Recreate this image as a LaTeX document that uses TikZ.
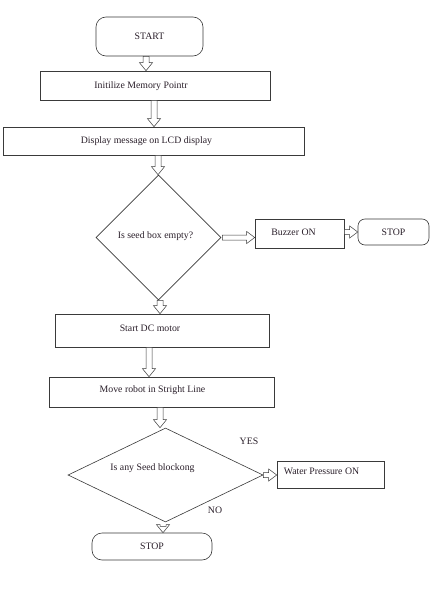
\documentclass[tikz,border=0pt]{standalone}
\usepackage{fontspec}
\setmainfont{Liberation Serif}
\usetikzlibrary{shapes.geometric,calc}
\definecolor{ln}{HTML}{3A3A3A}
\definecolor{tx}{HTML}{2A1F2A}
\tikzset{
  base/.style={draw=ln, line width=0.6pt, text=tx, font=\fontsize{9.8}{11}\selectfont, inner sep=0pt},
  procbox/.style={base, rectangle, minimum width=#1},
  termbox/.style={base, rectangle, rounded corners=10pt, minimum width=#1},
  decbox/.style={base, diamond, aspect=1},
  conn/.style={draw=ln, line width=0.5pt, fill=white},
}
\newcommand{\varr}[2]{\path[conn] let \p1=(#1), \p2=(#2) in
  (\x1-3pt,\y1) -- (\x1-3pt,\y2+8pt) -- (\x1-6.5pt,\y2+8pt) -- (\x1,\y2) --
  (\x1+6.5pt,\y2+8pt) -- (\x1+3pt,\y2+8pt) -- (\x1+3pt,\y1) -- cycle;}
\newcommand{\harr}[2]{\path[conn] let \p1=(#1), \p2=(#2) in
  (\x1,\y1+2.5pt) -- (\x2-8pt,\y1+2.5pt) -- (\x2-8pt,\y1+6pt) -- (\x2,\y1) --
  (\x2-8pt,\y1-6pt) -- (\x2-8pt,\y1-2.5pt) -- (\x1,\y1-2.5pt) -- cycle;}
\begin{document}
\begin{tikzpicture}[x=1pt,y=-1pt]
\useasboundingbox[fill=white] (0,0) rectangle (430,594);

\node[termbox=107pt, minimum height=39pt] (start) at (149.5,36.5) {START};
\node[procbox=230pt, minimum height=29pt, label={[base,draw=none,xshift=-14pt,yshift=-1pt]center:Initilize Memory Pointr}] (init) at (155,85.5) {};
\node[procbox=301pt, minimum height=28pt, label={[base,draw=none,xshift=-7pt]center:Display message on LCD display}] (disp) at (153.5,141) {};
\node[decbox, minimum width=125pt, minimum height=125pt, label={[base,draw=none,xshift=-3pt,yshift=1.5pt]center:Is seed box empty?}] (d1) at (158.5,237.5) {};
\node[procbox=89pt, minimum height=29pt, label={[base,draw=none,xshift=-6pt,yshift=1.5pt]center:Buzzer ON}] (buzz) at (299.5,233.5) {};
\node[termbox=71pt, minimum height=26pt, rounded corners=7pt] (stop1) at (393.5,232) {STOP};
\node[procbox=214pt, minimum height=33pt, label={[base,draw=none,xshift=-12pt,yshift=2pt]center:Start DC motor}] (dc) at (162,330.5) {};
\node[procbox=225pt, minimum height=30pt, label={[base,draw=none,xshift=-9pt,yshift=2pt]center:Move robot in Stright Line}] (move) at (161.5,392) {};
\node[decbox, minimum width=195pt, minimum height=94pt, label={[base,draw=none,xshift=-13pt,yshift=7pt]center:Is any Seed blockong}] (d2) at (165.5,475) {};
\node[procbox=107pt, minimum height=27pt, label={[base,draw=none,xshift=-9pt,yshift=3pt]center:Water Pressure ON}] (water) at (330.5,474.5) {};
\node[termbox=120pt, minimum height=27pt] (stop2) at (152,546.5) {STOP};

\node[base, draw=none] (yes) at (249,441) {YES};
\node[base, draw=none] (no) at (215,510.5) {NO};

\varr{$(start.south)+(-3.5,0)$}{init.north}
\varr{$(init.south)+(-1,0)$}{disp.north}
\varr{$(disp.south)+(4.5,0)$}{d1.north}
\harr{$(d1.east)+(1,0)$}{buzz.west}
\harr{$(buzz.east)+(0,-1.5)$}{stop1.west}
\varr{$(d1.south)+(1.5,0)$}{dc.north}
\varr{$(dc.south)+(-13,0)$}{move.north}
\varr{$(move.south)+(-1.5,0)$}{$(d2.north)+(-1.5,0)$}
\harr{d2.east}{water.west}
\varr{$(d2.south)+(-2.5,4)$}{stop2.north}
\end{tikzpicture}
\end{document}
